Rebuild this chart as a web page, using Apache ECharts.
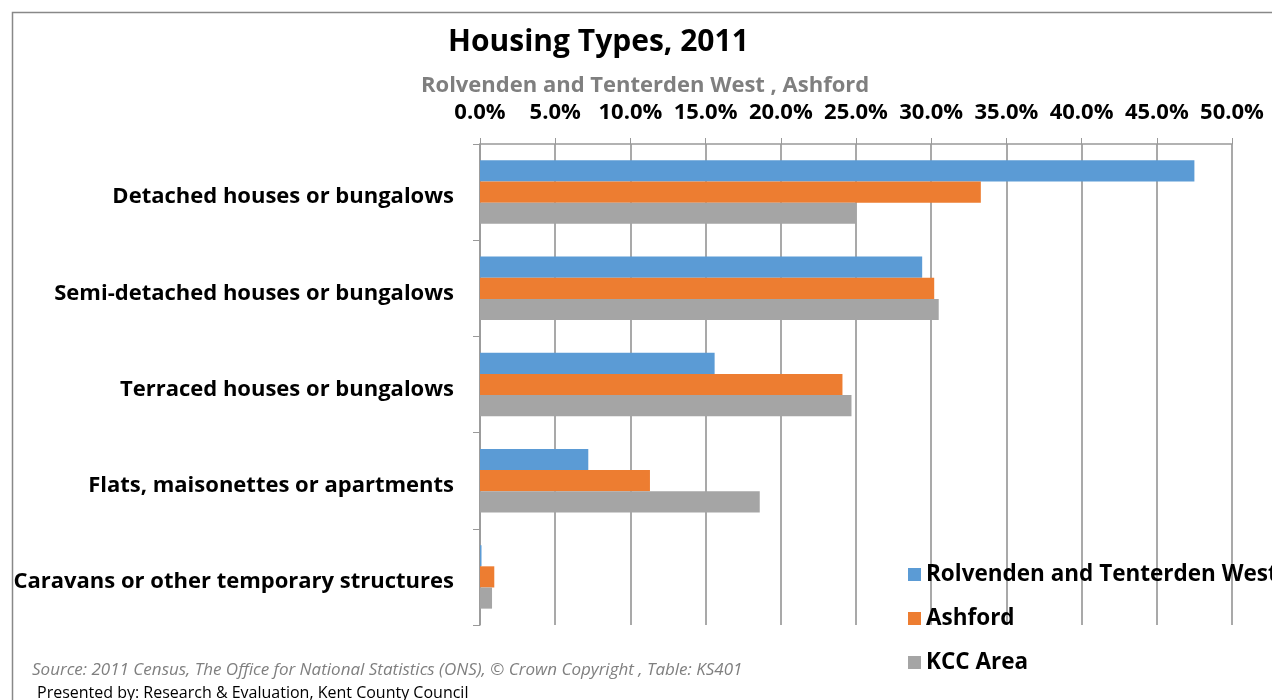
<!DOCTYPE html>
<html><head><meta charset="utf-8">
<script src="https://cdn.jsdelivr.net/npm/echarts@6/dist/echarts.min.js"></script>
<style>html,body{margin:0;padding:0;background:#fff}#c{width:1272px;height:700px}</style>
</head><body><div id="c"></div>
<script>
const categories = ['Detached houses or bungalows','Semi-detached houses or bungalows','Terraced houses or bungalows','Flats, maisonettes or apartments','Caravans or other temporary structures'];
const seriesNames = ['Rolvenden and Tenterden West','Ashford','KCC Area'];
const rolvenden = [47.5, 29.4, 15.6, 7.2, 0.1];
const ashford = [33.3, 30.2, 24.1, 11.3, 0.95];
const kcc = [25.0, 30.5, 24.7, 18.6, 0.8];
const colors = ['#5B9BD5','#ED7D31','#A5A5A5'];
const FONT = 'Open Sans';

const chart = echarts.init(document.getElementById('c'));
const data = [rolvenden, ashford, kcc];
chart.setOption({
  animation: false,
  textStyle: {fontFamily: FONT},
  title: [
    {text: 'Housing Types, 2011', left: 443, top: 22, textStyle: {fontFamily: FONT, fontSize: 30, fontWeight: 'bold', color: '#000'}},
    {text: 'Rolvenden and Tenterden West , Ashford', left: 416, top: 70, textStyle: {fontFamily: FONT, fontSize: 22, fontWeight: 'bold', color: '#7f7f7f'}},
    {text: 'Source: 2011 Census, The Office for National Statistics (ONS), \u00a9 Crown Copyright , Table: KS401', left: 27, top: 657, textStyle: {fontFamily: FONT, fontSize: 17, fontStyle: 'italic', fontWeight: 'normal', color: '#7f7f7f'}},
    {text: 'Presented by: Research & Evaluation, Kent County Council', left: 32, top: 680, textStyle: {fontFamily: FONT, fontSize: 16, fontWeight: 'normal', color: '#000'}}
  ],
  graphic: [{type: 'rect', shape: {x: 12.5, y: 12.5, width: 1300, height: 720}, style: {fill: 'none', stroke: '#888', lineWidth: 1.5}, silent: true}],
  legend: {
    orient: 'vertical', left: 903, top: 558, itemWidth: 13, itemHeight: 13, itemGap: 21,
    icon: 'rect',
    textStyle: {fontFamily: FONT, fontSize: 22.5, fontWeight: 'bold', color: '#000'},
    data: seriesNames
  },
  grid: {left: 480, right: 40, top: 144, bottom: 75, containLabel: false},
  xAxis: {
    type: 'value', position: 'top', min: 0, max: 50, interval: 5,
    axisLine: {show: true, lineStyle: {color: '#999', width: 1.5}},
    axisTick: {show: true, length: 6, lineStyle: {color: '#999'}},
    splitLine: {show: true, lineStyle: {color: '#8c8c8c', width: 1.5}},
    axisLabel: {formatter: v => v.toFixed(1) + '%', fontFamily: FONT, fontSize: 22, fontWeight: 'bold', color: '#000', margin: 20}
  },
  yAxis: {
    type: 'category', inverse: true, data: categories,
    axisLine: {show: true, lineStyle: {color: '#999', width: 1.5}},
    axisTick: {show: true, length: 7, lineStyle: {color: '#999'}},
    axisLabel: {
      margin: 26,
      formatter: v => '{a|' + v + '}',
      rich: {a: {fontFamily: FONT, fontSize: 22, fontWeight: 'bold', color: '#000', padding: [10, 0, 0, 0]}}
    }
  },
  series: seriesNames.map((n, i) => ({
    name: n, type: 'bar', data: data[i], barGap: '0%', barCategoryGap: '34%',
    itemStyle: {color: colors[i]}
  }))
});
</script></body></html>
